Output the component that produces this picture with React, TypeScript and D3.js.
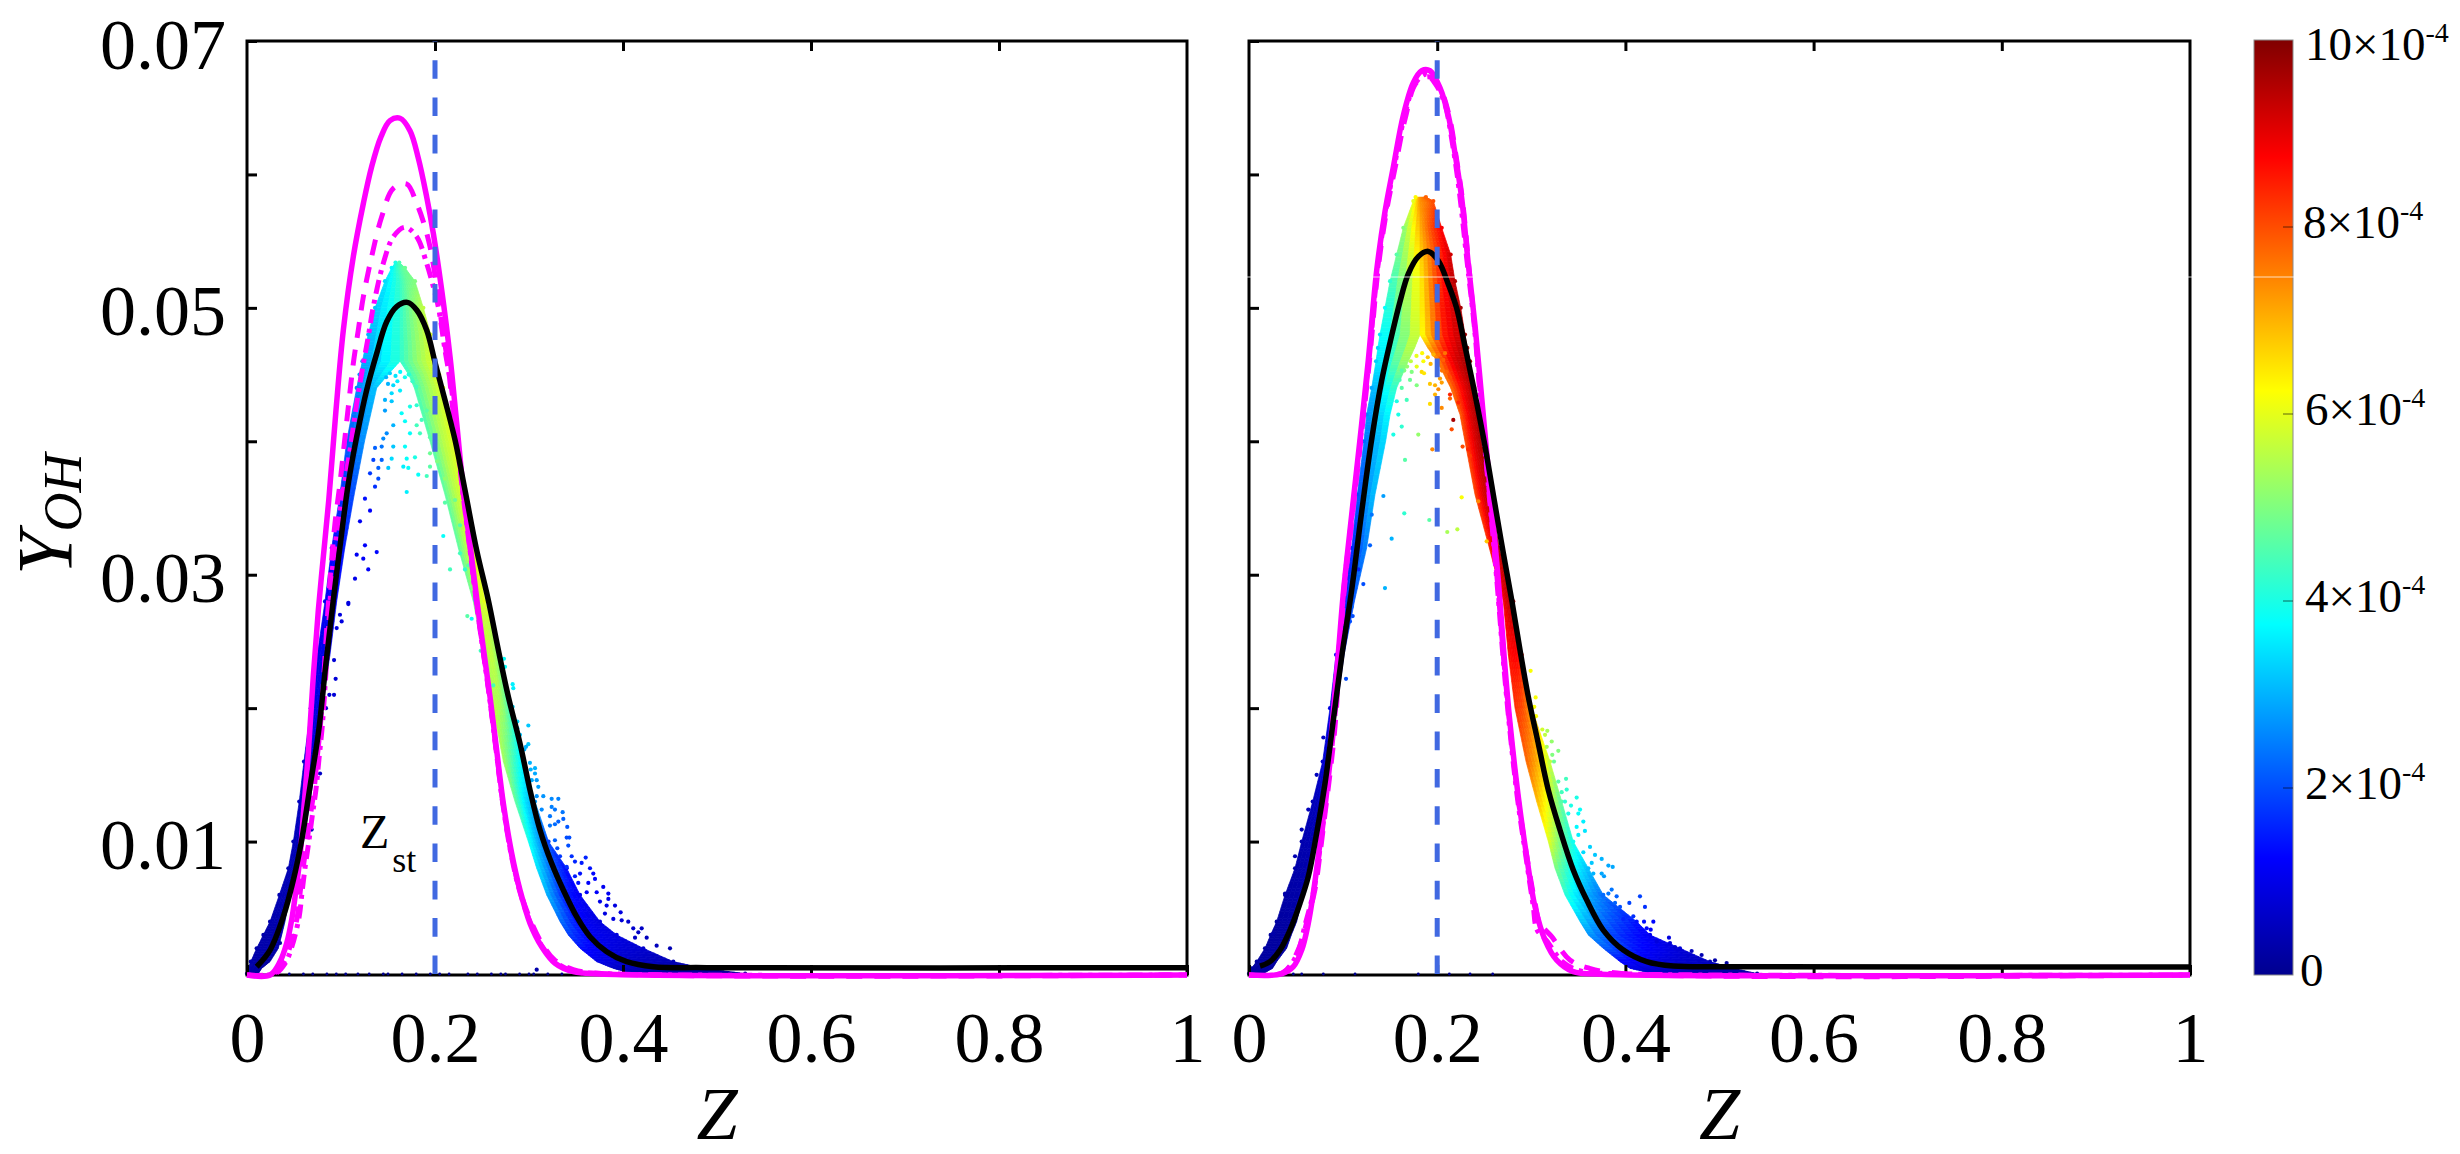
import React, { useEffect, useRef } from 'react';
import * as d3 from 'd3';

// all curve tables: [Z*1000, Y*1000]
type Pt = [number, number];
// scatter tables: [Z*1000, Y*1000, chi*1e4]
type Dot = [number, number, number];

const yTicks = [0, 0.01, 0.02, 0.03, 0.04, 0.05, 0.06, 0.07];
const yLabelled = [0.01, 0.03, 0.05, 0.07];
const zTicks = [0, 0.2, 0.4, 0.6, 0.8, 1];
const barTicks = [0, 2, 4, 6, 8, 10];
const Zst = 0.2;

const jetDomain = [0, 1.25, 3.75, 6.25, 8.75, 10];
const jetColors = ['#00008f', '#0000ff', '#00ffff', '#ffff00', '#ff0000', '#800000'];

// ---- left panel curves
const leftBlack: Pt[] = [[10.3,0.62],[24.5,1.87],[38.6,4.37],[49.3,7.12],[58.2,10.12],[67,14.11],[75.9,18.11],[84,23.36],[91.8,28.1],[98.9,32.1],[107.8,36.85],[116.7,40.34],[127.3,43.84],[138,46.59],[148.6,48.96],[159.2,50.09],[170.6,50.41],[180.5,49.84],[191.1,48.34],[200.3,45.84],[210.6,43.09],[221.3,40.1],[231.9,36.35],[244.3,31.85],[256.7,28.1],[267.4,24.36],[278,20.86],[290.4,17.36],[301.1,13.86],[311.7,10.87],[324.1,8.37],[336.5,6.37],[350.7,4.37],[364.9,2.87],[382.7,1.75],[403.9,1],[432.2,0.62],[489,0.55],[1000,0.55]];
const leftSolid: Pt[] = [[0,0],[24.5,0],[35.1,1],[42.2,2.37],[47.5,4.12],[52.1,6.37],[56.4,8.87],[60.6,12.61],[65.2,16.61],[70.5,22.36],[75.9,27.35],[81.2,31.35],[87,35.6],[94.7,42.34],[102.5,48.34],[113.1,53.84],[123.8,57.83],[132.6,60.58],[142.6,62.83],[152.1,64.03],[162.8,64.21],[173.4,63.28],[182.3,61.2],[191.1,58.33],[198.2,55.59],[207.1,51.34],[216,46.34],[223.1,41.35],[230.1,36.4],[238,31.85],[245.5,27.6],[251.4,24.5],[258.5,20.86],[265.6,16.86],[272.7,12.87],[281.6,9.12],[290.4,6.37],[301.1,3.87],[313.5,2.12],[327.7,0.88],[347.1,0.25],[375.5,0.08],[1000,0]];
const leftDash: Pt[] = [[0,0],[28,0.1],[38.6,0.88],[45.7,2.12],[53.5,4.37],[56.4,6.12],[59.9,8.12],[63.5,9.87],[67.8,12.12],[71.3,13.86],[74.8,16.36],[78,18.6],[81,21.6],[84.5,25.6],[88.3,29.6],[93.6,33.85],[98.9,36.85],[104.3,40.34],[107.8,42.59],[113.1,45.84],[118.4,48.34],[123.8,50.84],[132.6,53.84],[143.3,56.83],[155.7,58.96],[169.9,59.28],[180.5,57.83],[187.6,56.46],[194.7,54.58],[201.8,51.59],[207.1,48.84],[214.1,45.59],[219.5,42.1],[222.9,40.5],[229.5,36.4],[237.5,31.85],[245,27.5],[250.9,24.5],[258,20.9],[265.1,16.9],[272.2,12.9],[281.1,9.1],[290,6.4],[301.1,4.2],[313.5,2.4],[327.7,1.1],[347.1,0.4],[380,0.1],[1000,0]];
const leftDashDot: Pt[] = [[0,0],[30,0.1],[40.6,0.88],[47.7,2.12],[55.5,4.37],[58.4,6.12],[61.9,8.12],[65.5,9.87],[69.8,12.12],[73.3,13.86],[76.8,16.36],[80,18.6],[83,21.6],[86.5,25.6],[90.1,29.8],[95.4,33.1],[102.5,36.35],[109.6,39.35],[116.7,42.85],[122,45.1],[129,47.84],[134.4,50.09],[145,53.34],[155.7,55.33],[168.1,56.04],[180.5,55.33],[191.1,53.34],[198.2,51.59],[203.5,50.09],[210.6,46.84],[217.8,43.84],[222.9,40.3],[229.5,36.2],[237.5,31.7],[245,27.4],[250.9,24.4],[258,20.8],[265.1,16.8],[272.2,12.8],[281.1,9],[290,6.3],[301.1,4],[313.5,2.2],[327.7,1],[347.1,0.3],[380,0.1],[1000,0]];

// ---- right panel curves
const rightBlack: Pt[] = [[11.7,0.67],[22.3,1],[32.9,1.87],[43.6,3.37],[54.2,5.37],[63,7.37],[71.9,10.62],[80.8,14.37],[89.6,19.11],[98.5,23.86],[109.1,28.85],[119.8,34.75],[130.4,40.17],[141,44.55],[151.6,47.91],[160.5,50.48],[169.3,52.55],[179.9,53.84],[190.5,54.23],[201.2,53.53],[211.8,51.77],[220.7,49.97],[229.5,47.13],[240.2,43.51],[250.8,39.65],[261.4,35.26],[270.2,31.64],[279.2,28.1],[288,24.36],[296.8,20.86],[307.4,17.36],[318.1,13.86],[330.5,10.87],[344.6,7.87],[358.9,5.62],[376.5,3.37],[397.8,1.87],[422.6,1],[450.9,0.67],[521.8,0.62],[1000,0.6]];
const rightSolid: Pt[] = [[0,0],[34.7,0.08],[47.1,0.62],[56,1.87],[63,3.87],[68.3,6.12],[73.6,8.87],[79,11.86],[83,14.6],[87,17.6],[91,20.9],[95.5,24.6],[100.2,28.6],[109.1,34.48],[118,40.17],[126.8,46.09],[135.7,52.81],[144.5,57.2],[153.4,60.56],[164,64.42],[174.6,66.87],[183.5,67.77],[192.3,67.77],[203,66.49],[211.8,64.42],[218.9,61.58],[226,58.23],[233,53.32],[240.2,48.68],[247.3,43.26],[254.3,37.85],[261.4,32.42],[266.3,28.4],[271,24],[277.4,18.86],[286.2,13.36],[295.1,8.87],[303.9,5.12],[314.6,2.62],[327,1.12],[344.6,0.25],[369.5,0.08],[1000,0]];
const rightDash: Pt[] = [[0,0],[36.5,0.2],[52.4,1.9],[63,4.4],[70.1,6.4],[75.5,9.1],[80.8,12.1],[86.1,15.1],[91.4,18.6],[96.5,24],[100.8,28.5],[110,34.5],[119,40.2],[128,46],[137,52.8],[146,57.2],[155,60.4],[166,64.2],[178.2,66.9],[192.3,67.3],[204,66.3],[213,64.3],[220,61.4],[227,58],[233.5,53.2],[240,48.5],[246.5,43],[253.5,37.6],[260.5,32.2],[265.5,28.2],[270.5,23.8],[276.8,19],[285.5,13.5],[294.5,9.2],[304,5.4],[309,3.9],[321.7,2.87],[341,1.12],[362,0.5],[398,0.1],[1000,0]];
const rightDashDot: Pt[] = [[0,0],[35.5,0.15],[50,1.4],[60.5,4],[68.5,6.2],[74.5,9],[80,12],[85,15.1],[90.5,18.8],[96,24],[100.5,28.7],[109.6,34.5],[118.5,40.2],[127.4,46],[136.4,52.8],[145.2,57.2],[154.2,60.5],[165,64.3],[176.4,66.8],[188,67.5],[198,66.8],[208,65.3],[216,62.4],[223,59],[232,53.3],[239.5,48.6],[246,43.1],[253,37.7],[260,32.3],[265,28.2],[270,23.8],[276.4,18.9],[285,13.4],[294,9],[302,5.2],[306,3.4],[316,2.6],[333,1],[352,0.3],[390,0.1],[1000,0]];

// ---- dense part of the clouds, one row per Y level, left limb then right limb
const leftRowY = [0.1,0.5,1,2,3,4,6,8,10,13,16,20,24,28,32,36,40,44,45,46,48,50,52,53,53.4];
const leftOuterZ = [0,1.4,4,10.3,17.4,24.5,34.4,44,49.3,55.6,60.6,67.8,74.8,83,90.1,98.9,106.1,116.7,119.7,122.7,129,136.2,146.8,153.9,158];
const leftInnerZ = [12,15.6,24.5,33.3,36.9,40.4,45.7,52.9,60,67,73.4,79.5,88.3,95.4,104,114,125,138,150,162.8,162.8,162.8,162.8,160,160];
const leftRightInZ = [410,389.7,372,354.3,341.8,333,318.8,308.2,299.3,285.1,272.7,262,251.4,240.7,224.8,210.6,194.7,178,172,162.8,162.8,162.8,162.8,160,160];
const leftRightOutZ = [530,485.4,453.5,421.6,393.3,375.5,354.3,340.1,320.8,306.4,293.9,281.6,269.1,253.2,242.6,231.9,221.3,208.8,204.5,200,195.4,187.6,178.7,168.1,162];
const leftOuterChi = [0.2,0.3,0.3,0.3,0.3,0.35,0.4,0.4,0.45,0.55,0.7,0.9,1,1.1,1.3,1.7,2.1,2.5,2.65,2.8,3,3.2,3.4,3.7,4];
const leftInnerChi = [0.2,0.2,0.2,0.3,0.3,0.35,0.4,0.45,0.5,0.6,0.8,0.9,1,1.2,1.5,2,2.7,3.2,3.7,4.2,4.2,4.2,4.3,4.3,4.3];
const leftRightInChi = [0.3,0.6,1,1.4,1.9,2.4,3.1,3.6,4,4.8,5.4,5.6,5.3,4.8,4.6,4.6,4.5,4.4,4.3,4.2,4.2,4.2,4.3,4.3,4.3];
const leftRightMidChi = [0.2,0.3,0.6,0.9,1.1,1.2,1.6,2.2,2.9,3.5,4.4,5.3,5.7,5.7,5.5,5.5,5.5,5.3,5.25,5.2,5.1,5,4.8,4.6,4.4];
const leftRightOutChi = [0.1,0.2,0.4,0.7,0.9,0.9,1.1,1.3,1.9,2.8,3.5,4.2,5,6,6,6,6,6,6,6,5.9,5.6,5,4.8,4.5];

const rightRowY = [0.1,0.5,1,2,3,4,6,8,10,13,16,20,24,28,32,36,40,42,44,46,47,48,50,52,54,56,58,58.3];
const rightOuterZ = [0,2.5,8.2,17,23,29.4,38.3,48.9,56,67.7,78.3,86.1,92.5,100,109.1,115.1,122.2,125,130.4,135,137,139.2,144.5,149.9,156.9,164,174.6,177];
const rightInnerZ = [15,25,29.4,40,45,50.7,57.7,64.8,71.9,79,86.1,93.2,101,112,125,133.9,145.2,149.9,156.9,169.3,176,181.7,181.7,181.7,181.7,181.7,181.7,181.7];
const rightRightInZ = [430,404.9,394.3,376.5,360.6,351.8,335.8,325.2,318.1,305.7,294.4,282.7,275.6,270.3,255.4,240.2,229.5,224.2,214.3,200,190,181.7,181.7,181.7,181.7,181.7,181.7,181.7];
const rightRightOutZ = [540,514.7,489.9,458,426.2,412,376.5,360.6,344.6,332.3,319.9,300.4,289.8,280.9,266,256.1,249,244.8,239.5,234.9,232,229.5,225,218.9,214.3,204.8,195.9,188];
const rightOuterChi = [0.15,0.2,0.2,0.2,0.2,0.2,0.25,0.3,0.35,0.45,0.7,0.9,1.2,1.4,1.6,2,2.3,2.6,2.9,3.3,3.4,3.5,3.8,4.2,4.6,5,6,6.3];
const rightInnerChi = [0.15,0.2,0.2,0.2,0.2,0.25,0.3,0.35,0.4,0.55,0.8,1.1,1.6,2.2,2.6,3.2,3.5,3.8,4.4,5.5,5.8,6,6.2,6.3,6.6,7,7.3,7.3];
const rightRightInChi = [0.5,1,1.3,2.2,2.8,3.3,4.2,5,6,7,7.8,8.3,8.6,8.8,8.3,8,8,7.8,7.6,7.4,7,6,6.2,6.3,6.6,7,7.3,7.3];
const rightRightMidChi = [0.3,0.5,0.8,1.3,1.7,2.1,3.1,3.9,4.9,6,7,8,8.8,9.3,9,9,9,9,8.8,9,8.7,8.4,8.4,8.2,8,8,7.6,7.6];
const rightRightOutChi = [0.2,0.3,0.5,0.8,1.1,1.4,2.3,3.1,3.9,4.6,5.6,7,8.6,9.3,9.5,9.5,9.7,9.7,9.7,9.8,9.7,9.6,9.6,9.5,9.2,8.8,8,7.8];

// ---- loose points
const leftDots: Dot[] = [
  [148,44.8,3],[152,45.1,3.3],[158,44.9,3.5],[163,45.2,3.7],[168,44.8,3.9],[172,45,4.1],[176,44.5,4.3],[160,44.5,3.6],[150,44.3,3],[180,44.1,4.4],
  [155.6,44.2,3.4],[146.8,43.1,3],[153.9,43.6,3.4],[162.8,43.8,3.6],[164.5,42.1,3.8],[173.4,42.6,4],[180.5,42.7,4.2],[168.1,41.5,3.8],[146.8,42.3,2.8],[153.9,43,3.2],
  [191.2,42.3,4.6],[185.8,41.6,4.4],[180.5,41.2,4.4],[148.6,40.6,2.6],[155.6,41.2,3],[145,40.2,2.6],[143.3,39.6,2.4],[136.2,39.5,2.2],[134.4,38.6,1.9],[143.3,38.6,2.2],
  [139.7,38,2.2],[155.6,39.6,3.2],[168.1,39.6,3.8],[173.4,40.6,3.8],[184,40.6,4.4],[194.7,40.3,4.6],[153.9,38.7,3.4],[169.9,38.7,3.8],[178.7,38.8,4],[166.3,38.1,3.6],
  [171.6,38,3.8],[150.3,38,3.2],[194.7,39.1,4.8],[202.4,38.5,5],[194.7,38.1,4.6],[182.2,37.5,3.8],[191.2,37.4,4.4],[210.6,37.2,5.2],[169.9,36.2,3.6],[139.7,37.2,2],
  [130.9,37.6,1.8],[136.2,36.6,1.7],[125.5,35.7,1.4],[130.9,34.8,1.2],[120.2,34,1.1],[125.5,32.2,1.2],[138,31.7,1.3],[116.7,31.5,1.1],[123.7,31.2,1.2],[129,30.4,1.2],
  [114.9,29.7,1],[107.8,27.9,0.9],[208.8,32.9,3.8],[226.6,31.6,4.4],[235.4,30.7,4.6],[216,30.4,4.4],[231.9,30.4,4.2],[210.6,35.4,4.6],[221.3,35.6,4.8],[226.6,33.7,4.6],
  [242.6,28.1,3.8],[234.4,26.9,4.6],[239,26.7,3.8],[248.6,24.3,4.4],[273.4,23.7,3.8],[274.5,23.1,3.8],[282.6,21.8,3.6],[283.3,21.5,3.6],[262,21.7,4.4],[282.6,20.1,3.4],
  [287.6,19,3.4],[299.3,18.7,3.2],[287.6,18.5,3.3],[290.4,18,3.2],[299.3,17.3,3.2],[296.8,17.1,3],[295,16.9,3],[301,15.9,3],[306.4,15.5,3],[301.8,15.4,3],
  [306.4,15.1,2.9],[302.9,14.6,2.9],[308.2,14.6,2.8],[309.9,14.1,2.8],[308.2,13.4,2.7],[315.2,13.4,2.7],[324.1,13.2,2.6],[331.2,13.2,2.5],[324.1,12.6,2.5],[327.6,12.4,2.4],
  [335.8,12.2,2.4],[313.5,12.4,2.6],[322.3,11.9,2.4],[336.5,11.7,2.2],[331.2,11.5,2.2],[327.6,11.3,2.3],[322.3,11.2,2.4],[340.7,11.1,2.1],[342.9,10.3,2],[340.1,10.3,2],
  [327.6,10.1,2.2],[330.1,9.5,2],[341.8,9.7,2],[333,8.9,1.8],[345.4,8.9,1.7],[360.3,8.8,1.6],[348.9,8.5,1.6],[356,8.4,1.5],[340.1,8.1,1.7],[364.9,8,1.4],
  [368.4,7.6,1.3],[348.9,7.4,1.5],[354.3,7.6,1.4],[370.2,7.2,1.3],[363.1,6.9,1.2],[352.4,6.9,1.4],[379,6.6,1.1],[372,6.2,1.2],[384.4,6.1,1.1],[361.4,6.2,1.2],
  [384.4,5.7,1],[375.5,5.5,1],[382.6,5.2,1],[391.5,5.2,0.9],[380.8,4.6,0.9],[397.5,4.7,0.9],[389.7,4.2,0.9],[398.6,4.1,0.8],[405.6,4,0.7],[410.9,3.5,0.7],
  [419.9,3.5,0.6],[416.3,3.2,0.6],[412.8,2.8,0.6],[425.2,2.8,0.5],[435.8,2.2,0.5],[450,2,0.4],[308.2,0.4,0.3],
  [107.8,27.8,0.9],[100.7,26.5,0.9],[95.4,26,0.9],[98.9,27,0.9],[92.6,23.6,0.8],[94.3,22.2,0.8],[92.6,21,0.8],[87.6,21,0.8],[84,20,0.7],[77.7,15.1,0.6],[68.8,10.9,0.5],[35.1,2.4,0.2],
];
const rightDots: Dot[] = [
  [172,46,5.6],[178,46.4,6],[184,46.6,6.3],[190,46.3,6.8],[196,46.5,7],[168,45.6,5.2],[200,45.6,7.4],[160,44.6,4.5],[165,45.3,5],[205,45.3,7.6],
  [185.3,46,6.2],[178.2,45.6,6],[183.5,45.2,6.6],[186,45.1,6.5],[193,45.8,7],[201.2,46.5,7.6],[208.3,46.6,7.6],[206.5,46.1,7.8],[192.3,44.3,6.8],[197.7,44.2,7],
  [201.2,43.9,7.4],[197.7,43.5,7],[203,44.7,7.2],[204.8,44.4,7.2],[210,45.2,7.8],[213.6,44.8,8],[213.6,43.5,8.4],[213.6,43.2,7.8],[192.3,42.8,6.6],[204.8,42.5,7.4],
  [222.4,42.9,8.4],[217.1,41.6,9.6],[215.4,40.9,8],[227,39.6,8],[233,39.4,8.4],[234.9,38.9,8.2],[194.8,39.4,7.4],[179.9,40.5,5.2],[165.8,38.6,4.6],[153.4,40.5,4],
  [162.3,41.1,4.2],[158.7,42,4],[157,43,4],[167.6,43.1,4.4],[162.3,44,4.6],[171.1,44.6,4.8],[178.2,44.2,5],[172.9,45.2,5],[162.3,45.3,4.6],[142.8,35.9,2.8],
  [165,34.6,4.2],[191.6,34.1,4.6],[210.7,33.2,5.4],[221.4,33.4,5.6],[226,35.8,6.2],[243.7,35.5,7.4],[252.6,32.5,6.8],[151.6,32.7,3],[130.4,34.5,2.4],[128.6,32.2,2.2],
  [121.5,29.3,2],[144.5,29,3],[116.2,30.4,1.6],
  [299.3,22.8,6.2],[304.6,20.8,6.2],[303.2,20.1,6.2],[305,19.4,6.2],[311.7,18.4,5.8],[317,18.3,5.4],[314.6,18,5.6],[321.7,17.5,5.2],[316.4,17.1,5.4],[328.7,16.8,5],
  [322.3,16.5,5],[324.1,16,4.8],[336.9,14.7,4.4],[328.7,14.5,4.6],[337.6,13.9,4.2],[332.3,13.7,4.4],[348.2,13.3,4],[335.8,13,4.2],[342.2,12.7,4],[351.8,12.4,3.8],
  [350,12.1,3.8],[339.3,12.1,4],[355.3,11.5,3.6],[348.2,11.1,3.7],[357,10.8,3.5],[350,10.5,3.6],[362.4,9.6,3.3],[355.3,9.2,3.4],[367.7,9,3.2],[374.8,8.7,3],
  [364.2,8.4,3.2],[381.9,8.2,2.9],[386.5,8.1,2.9],[374.8,7.6,2.9],[377.3,7.4,2.8],[365.9,7.6,3],[385.4,6.4,2.4],[381.9,6.1,2.4],[390.7,5.9,2.2],[415.5,5.9,1.9],
  [389,5.4,2.2],[404.2,5.4,1.9],[394.3,5.1,2],[420.8,5.1,1.7],[396,4.7,1.8],[408.4,4.4,1.7],[397.8,4.2,1.6],[429.7,4,1.3],[419.8,4,1.4],[422.6,3.5,1.3],
  [426.9,3.4,1.2],[433.3,2.5,0.9],[446.3,2.8,0.9],[447.4,2.4,0.8],[452.7,2.1,0.7],[470.4,1.8,0.5],[481,1.5,0.4],[495.2,1.1,0.3],[507.6,0.9,0.2],
  [103.1,22.2,2],[110.2,26.9,2],[109.1,27.6,2.2],[107.3,26.5,2],[25.8,3.1,0.3],[38.3,6.1,0.3],[48.9,8.9,0.4],[56,10.9,0.45],[63,12.4,0.5],[71.9,15,0.5],[79,17.8,0.6],
];
// specks sitting on the x axis
const leftAxisZ = [45,60,70,85,95,105,118,130,145,150,165,180,195,205,215,235,245,260,270,275,290,300,305,320,335];
const rightAxisZ = [47.1,56,79,112.7,179.9,212.9,234.9,259];

const W = 2460;
const H = 1154;
const PLOT_TOP = 41;
const PLOT_BOTTOM = 975;
const FONT = '"Liberation Serif", "Times New Roman", serif';
const MAGENTA = '#ff00ff';
const ZST_BLUE = '#4169e1';
const DOT_R = 2.1;

const y = d3.scaleLinear().domain([0, 0.07]).range([PLOT_BOTTOM, PLOT_TOP]);
const jet = d3.scaleLinear<string>().domain(jetDomain).range(jetColors).clamp(true);
const line = (x: d3.ScaleLinear<number, number>) =>
  d3.line<Pt>().x(d => x(d[0] / 1000)).y(d => y(d[1] / 1000)).curve(d3.curveCatmullRom.alpha(0.5));

interface Cloud {
  rowY: number[]; outerZ: number[]; innerZ: number[]; rightInZ: number[]; rightOutZ: number[];
  outerChi: number[]; innerChi: number[]; rightInChi: number[]; rightMidChi: number[]; rightOutChi: number[];
}

// shaded mesh between the cloud rows, like pcolor with interpolated shading
function drawCloud(g: d3.Selection<SVGGElement, unknown, null, undefined>, x: d3.ScaleLinear<number, number>, c: Cloud) {
  const lerp = d3.interpolateNumber;
  const strip = (i: number, v: number, zA: number[], zB: number[], chiA: number[], chiB: number[], nU: number) => {
    const za = lerp(zA[i], zA[i + 1])(v);
    const zb = lerp(zB[i], zB[i + 1])(v);
    const ca = lerp(chiA[i], chiA[i + 1])(v);
    const cb = lerp(chiB[i], chiB[i + 1])(v);
    return d3.range(nU + 1).map(k => ({ z: za + (zb - za) * k / nU, chi: ca + (cb - ca) * k / nU }));
  };
  const rightMidZ = c.rightInZ.map((z, i) => (z + c.rightOutZ[i]) / 2);
  const parts: [number[], number[], number[], number[], number][] = [
    [c.outerZ, c.innerZ, c.outerChi, c.innerChi, 4],
    [c.rightInZ, rightMidZ, c.rightInChi, c.rightMidChi, 4],
    [rightMidZ, c.rightOutZ, c.rightMidChi, c.rightOutChi, 4],
  ];
  const nV = 8;
  c.rowY.slice(0, -1).forEach((rowLow, i) => {
    const rowHigh = c.rowY[i + 1];
    d3.range(nV).forEach(j => {
      const v0 = j / nV;
      const v1 = (j + 1) / nV;
      parts.forEach(([zA, zB, chiA, chiB, nU]) => {
        const s0 = strip(i, v0, zA, zB, chiA, chiB, nU);
        const s1 = strip(i, v1, zA, zB, chiA, chiB, nU);
        d3.range(nU).forEach(k => {
          const fill = jet((s0[k].chi + s0[k + 1].chi + s1[k].chi + s1[k + 1].chi) / 4);
          const yA = y((rowLow + (rowHigh - rowLow) * v0) / 1000);
          const yB = y((rowLow + (rowHigh - rowLow) * v1) / 1000);
          g.append('path')
            .attr('d', `M${x(s0[k].z / 1000)},${yA}L${x(s0[k + 1].z / 1000)},${yA}L${x(s1[k + 1].z / 1000)},${yB}L${x(s1[k].z / 1000)},${yB}Z`)
            .attr('fill', fill)
            .attr('stroke', fill)
            .attr('stroke-width', 0.7);
        });
      });
    });
  });
  // the table rows are real points too, they roughen the edges
  c.rowY.forEach((rowY, i) => {
    g.append('circle').attr('cx', x(c.outerZ[i] / 1000)).attr('cy', y(rowY / 1000)).attr('r', DOT_R).attr('fill', jet(c.outerChi[i]));
    g.append('circle').attr('cx', x(c.rightOutZ[i] / 1000)).attr('cy', y(rowY / 1000)).attr('r', DOT_R).attr('fill', jet(c.rightOutChi[i]));
  });
}

function drawPanel(
  svg: d3.Selection<SVGSVGElement, unknown, null, undefined>,
  x: d3.ScaleLinear<number, number>,
  cloud: Cloud,
  dots: Dot[],
  axisSpecks: number[],
  curves: { black: Pt[]; solid: Pt[]; dash: Pt[]; dashDot: Pt[] },
  showYLabels: boolean,
) {
  const g = svg.append('g');
  const [xLeft, xRight] = x.range();

  drawCloud(g, x, cloud);
  g.selectAll('circle.dot').data(dots).join('circle')
    .attr('class', 'dot')
    .attr('cx', d => x(d[0] / 1000))
    .attr('cy', d => y(d[1] / 1000))
    .attr('r', DOT_R)
    .attr('fill', d => jet(d[2]));

  // box and ticks
  g.append('rect')
    .attr('x', xLeft).attr('y', PLOT_TOP)
    .attr('width', xRight - xLeft).attr('height', PLOT_BOTTOM - PLOT_TOP)
    .attr('fill', 'none').attr('stroke', '#000').attr('stroke-width', 3);

  const styleAxis = (a: d3.Selection<SVGGElement, unknown, null, undefined>) => {
    a.select('.domain').remove();
    a.selectAll('.tick line').attr('stroke', '#000').attr('stroke-width', 3);
    a.selectAll('text').attr('fill', '#000').style('font-family', FONT).style('font-size', '72px');
  };

  const bottom = g.append('g').attr('transform', `translate(0,${PLOT_BOTTOM})`)
    .call(d3.axisBottom(x).tickValues(zTicks).tickSize(-10).tickPadding(0).tickFormat(d => String(+d)));
  styleAxis(bottom);
  bottom.selectAll('text').attr('y', 87).attr('dy', 0);

  const top = g.append('g').attr('transform', `translate(0,${PLOT_TOP})`)
    .call(d3.axisTop(x).tickValues(zTicks.slice(1, -1)).tickSize(-10).tickFormat(() => ''));
  styleAxis(top);

  const left = g.append('g').attr('transform', `translate(${xLeft},0)`)
    .call(d3.axisLeft(y).tickValues(yTicks).tickSize(-10).tickPadding(0)
      .tickFormat(d => (showYLabels && yLabelled.includes(+d) ? d3.format('.2f')(+d) : '')));
  styleAxis(left);
  left.selectAll('text').attr('x', 226 - xLeft).attr('dy', 27);

  g.selectAll('circle.speck').data(axisSpecks).join('circle')
    .attr('class', 'speck')
    .attr('cx', d => x(d / 1000))
    .attr('cy', PLOT_BOTTOM - 1)
    .attr('r', 1.4)
    .attr('fill', '#00008f');

  // curves
  const path = line(x);
  const draw = (pts: Pt[], stroke: string, width: number, dash?: string) =>
    g.append('path').attr('d', path(pts)).attr('fill', 'none')
      .attr('stroke', stroke).attr('stroke-width', width)
      .attr('stroke-dasharray', dash ?? null);
  draw(curves.dashDot, MAGENTA, 5, '14 6 4 6');
  draw(curves.dash, MAGENTA, 5, '16 12');
  draw(curves.solid, MAGENTA, 5.5);
  draw(curves.black, '#000', 5.5);

  // stoichiometric mixture fraction
  g.append('line')
    .attr('x1', x(Zst)).attr('x2', x(Zst))
    .attr('y1', PLOT_BOTTOM - 1).attr('y2', PLOT_TOP)
    .attr('stroke', ZST_BLUE).attr('stroke-width', 5)
    .attr('stroke-dasharray', '18.6 18.7');

  g.append('text')
    .attr('x', x(0.5)).attr('y', 1139)
    .attr('text-anchor', 'middle')
    .style('font-family', FONT).style('font-style', 'italic').style('font-size', '74px')
    .text('Z');
}

function drawColorbar(svg: d3.Selection<SVGSVGElement, unknown, null, undefined>) {
  const barX = 2254;
  const barW = 39;
  const chi = d3.scaleLinear().domain([0, 10]).range([PLOT_BOTTOM, 40]);
  const grad = svg.append('defs').append('linearGradient')
    .attr('id', 'jetbar').attr('x1', 0).attr('x2', 0).attr('y1', 1).attr('y2', 0);
  jetDomain.forEach((d, i) => {
    grad.append('stop').attr('offset', d / 10).attr('stop-color', jetColors[i]);
  });
  svg.append('rect')
    .attr('x', barX).attr('y', chi(10)).attr('width', barW).attr('height', chi(0) - chi(10))
    .attr('fill', 'url(#jetbar)').attr('stroke', '#8a8a8a').attr('stroke-width', 1);

  barTicks.forEach(t => {
    if (t > 0 && t < 10) {
      svg.append('line')
        .attr('x1', barX + barW - 10).attr('x2', barX + barW)
        .attr('y1', chi(t)).attr('y2', chi(t))
        .attr('stroke', '#000').attr('stroke-opacity', 0.6).attr('stroke-width', 1);
    }
    const baseline = t === 10 ? chi(t) + 20 : chi(t) + 11;
    const label = svg.append('text')
      .attr('x', t === 0 ? 2300 : t === 8 ? 2303 : 2305)
      .attr('y', baseline)
      .style('font-family', FONT).style('font-size', '47px');
    if (t === 0) {
      label.text('0');
    } else {
      label.append('tspan').text(`${t}\u00d710`);
      label.append('tspan').attr('dy', -18).style('font-size', '28px').text('-4');
    }
  });
}

export default function App() {
  const ref = useRef<SVGSVGElement>(null);

  useEffect(() => {
    const svg = d3.select(ref.current!);
    svg.selectAll('*').remove();
    svg.append('rect').attr('width', W).attr('height', H).attr('fill', '#fff');

    const xLeft = d3.scaleLinear().domain([0, 1]).range([247, 1187]);
    const xRight = d3.scaleLinear().domain([0, 1]).range([1249, 2190]);

    drawPanel(svg, xLeft, {
      rowY: leftRowY, outerZ: leftOuterZ, innerZ: leftInnerZ, rightInZ: leftRightInZ, rightOutZ: leftRightOutZ,
      outerChi: leftOuterChi, innerChi: leftInnerChi, rightInChi: leftRightInChi, rightMidChi: leftRightMidChi, rightOutChi: leftRightOutChi,
    }, leftDots, leftAxisZ, { black: leftBlack, solid: leftSolid, dash: leftDash, dashDot: leftDashDot }, true);

    drawPanel(svg, xRight, {
      rowY: rightRowY, outerZ: rightOuterZ, innerZ: rightInnerZ, rightInZ: rightRightInZ, rightOutZ: rightRightOutZ,
      outerChi: rightOuterChi, innerChi: rightInnerChi, rightInChi: rightRightInChi, rightMidChi: rightRightMidChi, rightOutChi: rightRightOutChi,
    }, rightDots, rightAxisZ, { black: rightBlack, solid: rightSolid, dash: rightDash, dashDot: rightDashDot }, false);

    drawColorbar(svg);

    // Y label
    const yLab = svg.append('text')
      .attr('transform', 'translate(71,575) rotate(-90)')
      .style('font-family', FONT).style('font-style', 'italic');
    yLab.append('tspan').style('font-size', '78px').text('Y');
    yLab.append('tspan').attr('dy', 10).style('font-size', '54px').text('OH');

    // Zst annotation
    const zst = svg.append('text').attr('x', 360).attr('y', 848)
      .style('font-family', FONT);
    zst.append('tspan').style('font-size', '48px').text('Z');
    zst.append('tspan').attr('dx', 3).attr('dy', 24).style('font-size', '36px').text('st');

    // pale seam left in the source image
    svg.append('line')
      .attr('x1', 1247).attr('x2', 2296).attr('y1', 277).attr('y2', 277)
      .attr('stroke', '#fff').attr('stroke-opacity', 0.75).attr('stroke-width', 1);
  }, []);

  return (
    <svg ref={ref} width={W} height={H} viewBox={`0 0 ${W} ${H}`}
      style={{ position: 'absolute', left: 0, top: 0, display: 'block' }} />
  );
}
